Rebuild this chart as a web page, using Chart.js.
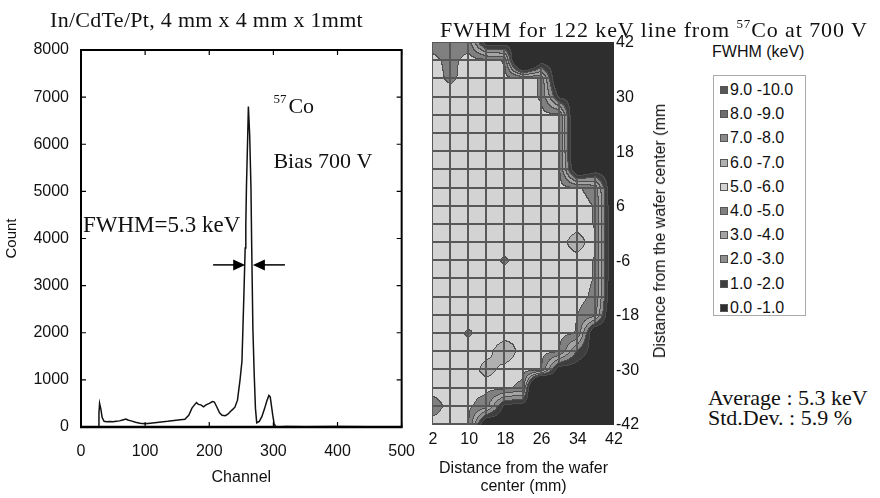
<!DOCTYPE html>
<html>
<head>
<meta charset="utf-8">
<script src="https://cdn.jsdelivr.net/npm/chart.js@4.4.1/dist/chart.umd.min.js"></script>
<style>
  html, body { margin: 0; padding: 0; background: #fff; }
  #wrap { position: relative; width: 880px; height: 498px; overflow: hidden; font-family: 'Liberation Sans', Arial, sans-serif; color: #111; }
  #specCanvas { position: absolute; left: 0; top: 0; }
  #mapCanvas { position: absolute; left: 420px; top: 0; }
  .serif { position: absolute; font-family: 'Liberation Serif', 'Times New Roman', serif; font-size: 22px; line-height: 22px; white-space: nowrap; color: #111; }
  .serif sup { font-size: 13px; vertical-align: 9px; line-height: 0; }
  .sans { position: absolute; font-size: 16px; line-height: 18px; white-space: nowrap; color: #111; }
  #legendBox { position: absolute; left: 713px; top: 75px; width: 93px; height: 241px; border: 1px solid #aaa; box-sizing: border-box; }
  .swatch { position: absolute; left: 6px; width: 8px; height: 8px; border: 1px solid #555; box-sizing: border-box; }
  #mapYTitle { position: absolute; left: 660px; top: 231px; transform: translate(-50%, -50%) rotate(-90deg); font-size: 16px; white-space: nowrap; }
</style>
</head>
<body>
<div id="wrap">
  <canvas id="specCanvas" width="430" height="498"></canvas>
  <canvas id="mapCanvas" width="240" height="498"></canvas>

  <div class="serif" style="left:50px; top:9px; letter-spacing:0.3px;">In/CdTe/Pt, 4 mm x 4 mm x 1mmt</div>
  <div class="serif" style="left:440px; top:19px; letter-spacing:0.9px;">FWHM for 122 keV line from <sup>57</sup>Co at 700 V</div>

  <div id="mapYTitle">Distance from the wafer center (mm</div>

  <div class="sans" style="left:712px; top:43px;">FWHM (keV)</div>
  <div id="legendBox"></div>

  <div class="serif" style="left:708px; top:387px;">Average : 5.3 keV</div>
  <div class="serif" style="left:708px; top:407px;">Std.Dev. : 5.9 %</div>
</div>

<script>
// ---- spectrum (left panel) ----
const channels = [27, 28, 29, 31, 33, 36, 40, 45, 50, 55, 60, 65, 70, 73, 78, 85, 92, 100, 108, 115,
  125, 135, 145, 155, 162, 168, 173, 177, 180, 183, 187, 191, 195, 200, 205, 208, 212, 216, 220, 225,
  229, 233, 237, 240, 244, 248, 251, 254, 256, 257, 258, 260, 261, 263, 265, 266, 268, 270, 272, 274,
  278, 282, 286, 290, 293, 295, 297, 299, 301, 303, 306, 320, 350, 400, 450, 500];
const counts = [0, 300, 500, 380, 200, 120, 110, 115, 110, 120, 130, 150, 170, 150, 130, 100, 80, 70, 80, 90,
  105, 120, 140, 155, 165, 250, 400, 470, 520, 480, 470, 430, 470, 500, 540, 530, 420, 300, 250, 240,
  270, 330, 380, 420, 570, 1000, 1400, 2800, 3800, 4300, 5100, 6200, 6800, 6200, 5100, 4000, 2100, 1150, 400, 90,
  120, 220, 380, 560, 670, 640, 450, 250, 80, 20, 0, 10, 5, 10, 5, 5];

// FWHM arrows (channel of tail and tip, count level)
const arrowLevel = 3440;
const arrowTails = [206, 318];
const arrowTips = [256, 268];

// ---- FWHM map (right panel) ----
const mapX = [2, 6, 10, 14, 18, 22, 26, 30, 34, 38, 42];
const mapY = [42, 38, 34, 30, 26, 22, 18, 14, 10, 6, 2, -2, -6, -10, -14, -18, -22, -26, -30, -34, -38, -42];
// FWHM (keV) at each grid node, one row per mapY value
const fwhmGrid = [
  [4.6, 4.2, 4.5, 0.0, 0.3, 0.3, 0.3, 0.3, 0.3, 0.3, 0.3],
  [5.3, 4.7, 5.4, 5.4, 4.9, -5.0, 0.3, 0.3, 0.3, 0.3, 0.3],
  [5.3, 4.85, 5.3, 5.3, 5.3, 5.4, 4.9, -1.3, 0.3, 0.3, 0.3],
  [5.3, 5.4, 5.3, 5.3, 5.3, 5.4, 4.9, 0.8, 0.3, 0.3, 0.3],
  [5.3, 5.3, 5.3, 5.3, 5.3, 5.3, 5.3, 5.3, -1.9, 0.3, 0.3],
  [5.3, 5.3, 5.3, 5.3, 5.3, 5.3, 5.3, 5.3, -1.9, 0.3, 0.3],
  [5.3, 5.3, 5.3, 5.3, 5.3, 5.3, 5.3, 5.3, -1.9, 0.3, 0.3],
  [5.3, 5.3, 5.3, 5.3, 5.3, 5.3, 5.3, 5.2, -1.0, 0.3, 0.3],
  [5.3, 5.3, 5.3, 5.3, 5.3, 5.3, 5.3, 5.3, 5.1, 4.7, -1.0],
  [5.3, 5.3, 5.3, 5.3, 5.3, 5.3, 5.3, 5.3, 5.3, 4.95, -0.7],
  [5.3, 5.3, 5.3, 5.3, 5.3, 5.3, 5.3, 5.3, 5.3, 4.95, -0.7],
  [5.3, 5.3, 5.3, 5.3, 5.3, 5.3, 5.3, 5.3, 6.9, 4.95, -0.7],
  [5.3, 5.3, 5.3, 5.3, 4.9, 5.3, 5.3, 5.3, 5.3, 4.95, -0.7],
  [5.3, 5.3, 5.3, 5.3, 5.3, 5.3, 5.3, 5.3, 5.3, 4.95, -0.7],
  [5.3, 5.3, 5.3, 5.3, 5.3, 5.3, 5.3, 5.3, 5.3, 4.8, -0.8],
  [5.3, 5.3, 5.3, 5.3, 5.3, 5.3, 5.3, 5.3, 5.0, 4.3, -1.5],
  [5.3, 5.3, 4.9, 5.3, 5.5, 5.8, 5.3, 5.3, 4.95, -1.0, 0.3],
  [5.3, 5.3, 5.3, 5.6, 6.8, 5.5, 5.3, 5.0, 1.8, 0.3, 0.3],
  [5.3, 5.3, 5.3, 6.5, 5.6, 5.3, 5.1, 0.0, 0.3, 0.3, 0.3],
  [5.3, 5.3, 5.3, 5.3, 5.2, 4.7, -8.0, 0.3, 0.3, 0.3, 0.3],
  [4.6, 5.3, 5.2, 4.4, 0.5, 0.3, 0.3, 0.3, 0.3, 0.3, 0.3],
  [5.3, 5.3, 5.0, -1.0, 0.3, 0.3, 0.3, 0.3, 0.3, 0.3, 0.3]
];
const xTickLabels = [2, 10, 18, 26, 34, 42];
const yTickLabels = [42, 30, 18, 6, -6, -18, -30, -42];

// legend bands, lowest first
const bandLabels = ['0.0 -1.0', '1.0 -2.0', '2.0 -3.0', '3.0 -4.0', '4.0 -5.0',
  '5.0 -6.0', '6.0 -7.0', '7.0 -8.0', '8.0 -9.0', '9.0 -10.0'];
const bandColors = ['#2e2e2e', '#3e3e3e', '#8e8e8e', '#a4a4a4', '#808080',
  '#d3d3d3', '#b0b0b0', '#8a8a8a', '#6e6e6e', '#575757'];
const contourLine = [78, 78, 78];
const gridLine = [88, 88, 88];

const sansFont = "'Liberation Sans', Arial, sans-serif";
const serifFont = "'Liberation Serif', 'Times New Roman', serif";

// ---------- spectrum chart ----------
const specDecor = {
  id: 'specDecor',
  afterDraw(chart) {
    const { ctx, chartArea: a, scales: { x, y } } = chart;
    ctx.save();
    ctx.strokeStyle = '#000';
    // frame
    ctx.lineWidth = 2;
    ctx.beginPath();
    ctx.moveTo(a.left, a.bottom); ctx.lineTo(a.left, a.top); ctx.lineTo(a.right, a.top); ctx.lineTo(a.right, a.bottom);
    ctx.stroke();
    ctx.lineWidth = 2.5;
    ctx.beginPath(); ctx.moveTo(a.left - 1, a.bottom); ctx.lineTo(a.right + 1, a.bottom); ctx.stroke();
    // inward ticks
    ctx.lineWidth = 1.2;
    ctx.beginPath();
    x.ticks.forEach(t => {
      const px = x.getPixelForValue(t.value);
      ctx.moveTo(px, a.bottom); ctx.lineTo(px, a.bottom - 5);
      ctx.moveTo(px, a.top); ctx.lineTo(px, a.top + 5);
    });
    y.ticks.forEach(t => {
      const py = y.getPixelForValue(t.value);
      ctx.moveTo(a.left, py); ctx.lineTo(a.left + 5, py);
      ctx.moveTo(a.right, py); ctx.lineTo(a.right - 5, py);
    });
    ctx.stroke();

    // FWHM arrows
    const ay = y.getPixelForValue(arrowLevel);
    ctx.fillStyle = '#000';
    ctx.lineWidth = 1.5;
    arrowTails.forEach((tail, i) => {
      const x0 = x.getPixelForValue(tail);
      const x1 = x.getPixelForValue(arrowTips[i]);
      const dir = Math.sign(x1 - x0);
      ctx.beginPath(); ctx.moveTo(x0, ay); ctx.lineTo(x1 - dir * 10, ay); ctx.stroke();
      ctx.beginPath();
      ctx.moveTo(x1, ay); ctx.lineTo(x1 - dir * 12, ay - 5.5); ctx.lineTo(x1 - dir * 12, ay + 5.5);
      ctx.closePath(); ctx.fill();
    });

    // annotations
    ctx.fillStyle = '#111';
    ctx.textBaseline = 'alphabetic';
    ctx.textAlign = 'left';
    ctx.font = '13px ' + serifFont;
    ctx.fillText('57', x.getPixelForValue(300), y.getPixelForValue(6880));
    ctx.font = '22px ' + serifFont;
    ctx.fillText('Co', x.getPixelForValue(300) + 15, y.getPixelForValue(6656));
    ctx.fillText('Bias 700 V', x.getPixelForValue(300), y.getPixelForValue(5490));
    ctx.font = '23px ' + serifFont;
    ctx.fillText('FWHM=5.3 keV', x.getPixelForValue(3), y.getPixelForValue(4130));
    ctx.restore();
  }
};

new Chart(document.getElementById('specCanvas'), {
  type: 'line',
  data: {
    datasets: [{
      data: channels.map((c, i) => ({ x: c, y: counts[i] })),
      borderColor: '#111',
      borderWidth: 1.5,
      pointRadius: 0,
      tension: 0,
      fill: false
    }]
  },
  options: {
    responsive: false,
    animation: false,
    layout: { padding: { left: 3, right: 19, top: 50, bottom: 10.4 } },
    plugins: { legend: { display: false }, tooltip: { enabled: false } },
    scales: {
      x: {
        type: 'linear', min: 0, max: 500,
        afterFit: s => { s.height = 60.6; },
        ticks: { stepSize: 100, color: '#111', font: { family: sansFont, size: 16 }, padding: 15, maxRotation: 0, callback: v => String(v) },
        grid: { display: false, drawTicks: false },
        border: { display: false },
        title: { display: true, text: 'Channel', color: '#111', font: { family: sansFont, size: 16 }, padding: { top: 0, bottom: 0 } }
      },
      y: {
        type: 'linear', min: 0, max: 8000,
        afterFit: s => { s.width = 78; },
        ticks: { stepSize: 1000, color: '#111', font: { family: sansFont, size: 16 }, padding: 12, callback: v => String(v) },
        grid: { display: false, drawTicks: false },
        border: { display: false },
        title: { display: true, text: 'Count', color: '#111', font: { family: sansFont, size: 15 }, padding: { top: 0, bottom: 0 } }
      }
    }
  },
  plugins: [specDecor]
});

// ---------- FWHM map ----------
function locate(arr, v) {
  for (let i = 0; i < arr.length - 1; i++) {
    const t = (v - arr[i]) / (arr[i + 1] - arr[i]);
    if (t >= 0 && t <= 1) return [i, t];
  }
  const lastT = (v - arr[0]) / (arr[1] - arr[0]);
  return lastT < 0 ? [0, 0] : [arr.length - 2, 1];
}

function fwhmAt(xv, yv) {
  const [i, fx] = locate(mapX, xv);
  const [j, fy] = locate(mapY, yv);
  const g = fwhmGrid;
  return (1 - fx) * (1 - fy) * g[j][i] + fx * (1 - fy) * g[j][i + 1] +
         (1 - fx) * fy * g[j + 1][i] + fx * fy * g[j + 1][i + 1];
}

function hexRGB(h) {
  return [parseInt(h.slice(1, 3), 16), parseInt(h.slice(3, 5), 16), parseInt(h.slice(5, 7), 16)];
}
const bandRGB = bandColors.map(hexRGB);

// filled contour bands + cell grid, painted under the axes
const mapRaster = {
  id: 'mapRaster',
  beforeDraw(chart) {
    const { ctx, chartArea: a, scales: { x, y } } = chart;
    const x0 = Math.round(a.left), y0 = Math.round(a.top);
    const w = Math.round(a.right) - x0 + 1, h = Math.round(a.bottom) - y0 + 1;
    const xs = [], ys = [];
    for (let i = 0; i < w; i++) xs.push(x.getValueForPixel(x0 + i + 0.5));
    for (let j = 0; j < h; j++) ys.push(y.getValueForPixel(y0 + j + 0.5));
    const gridCol = new Uint8Array(w), gridRow = new Uint8Array(h);
    x.ticks.forEach(t => {
      const p = Math.round(x.getPixelForValue(t.value)) - x0;
      [p - 1, p].forEach(q => { if (q >= 0 && q < w) gridCol[q] = 1; });
    });
    y.ticks.forEach(t => {
      const p = Math.round(y.getPixelForValue(t.value)) - y0;
      [p - 1, p].forEach(q => { if (q >= 0 && q < h) gridRow[q] = 1; });
    });
    const band = new Int8Array(w * h);
    for (let j = 0; j < h; j++) {
      for (let i = 0; i < w; i++) {
        const v = fwhmAt(xs[i], ys[j]);
        band[j * w + i] = Math.max(0, Math.min(9, Math.floor(v)));
      }
    }
    const img = ctx.createImageData(w, h);
    for (let j = 0; j < h; j++) {
      for (let i = 0; i < w; i++) {
        const k = j * w + i;
        const b = band[k];
        let c = bandRGB[b];
        if ((i > 0 && band[k - 1] !== b) || (j > 0 && band[k - w] !== b)) c = contourLine;
        if ((gridCol[i] || gridRow[j]) && b >= 2) c = gridLine;
        img.data[k * 4] = c[0]; img.data[k * 4 + 1] = c[1]; img.data[k * 4 + 2] = c[2]; img.data[k * 4 + 3] = 255;
      }
    }
    ctx.putImageData(img, x0 - 1, y0 - 1);
  }
};

new Chart(document.getElementById('mapCanvas'), {
  type: 'scatter',
  data: { datasets: [] },
  options: {
    responsive: false,
    animation: false,
    layout: { padding: { left: 13, right: 0, top: 43, bottom: 2 } },
    plugins: { legend: { display: false }, tooltip: { enabled: false } },
    scales: {
      x: {
        type: 'linear', min: 2, max: 42,
        afterBuildTicks: s => { s.ticks = mapX.map(v => ({ value: v })); },
        afterFit: s => { s.height = 71; },
        ticks: {
          autoSkip: false, maxRotation: 0, padding: 5, color: '#111',
          font: { family: sansFont, size: 16 },
          callback: v => xTickLabels.includes(v) ? String(v) : ''
        },
        grid: { display: false, drawTicks: false },
        border: { display: false },
        title: {
          display: true, text: ['Distance from the wafer', 'center (mm)'], color: '#111',
          font: { family: sansFont, size: 16, lineHeight: 1.15 }, padding: { top: 0, bottom: 0 }
        }
      },
      y: {
        type: 'linear', position: 'right', min: -42, max: 42,
        afterBuildTicks: s => { s.ticks = mapY.map(v => ({ value: v })); },
        afterFit: s => { s.width = 46; },
        ticks: {
          autoSkip: false, padding: 2, color: '#111',
          font: { family: sansFont, size: 16 },
          callback: v => yTickLabels.includes(v) ? String(v) : ''
        },
        grid: { display: false, drawTicks: false },
        border: { display: false }
      }
    }
  },
  plugins: [mapRaster]
});

// ---------- legend ----------
const legendBox = document.getElementById('legendBox');
for (let b = bandLabels.length - 1, k = 0; b >= 0; b--, k++) {
  const cy = 14 + 24.2 * k;
  const sw = document.createElement('div');
  sw.className = 'swatch';
  sw.style.top = (cy - 4) + 'px';
  sw.style.background = bandColors[b];
  legendBox.appendChild(sw);
  const tx = document.createElement('div');
  tx.className = 'sans';
  tx.style.left = '16px';
  tx.style.top = (cy - 9) + 'px';
  tx.textContent = bandLabels[b];
  legendBox.appendChild(tx);
}
</script>
</body>
</html>
